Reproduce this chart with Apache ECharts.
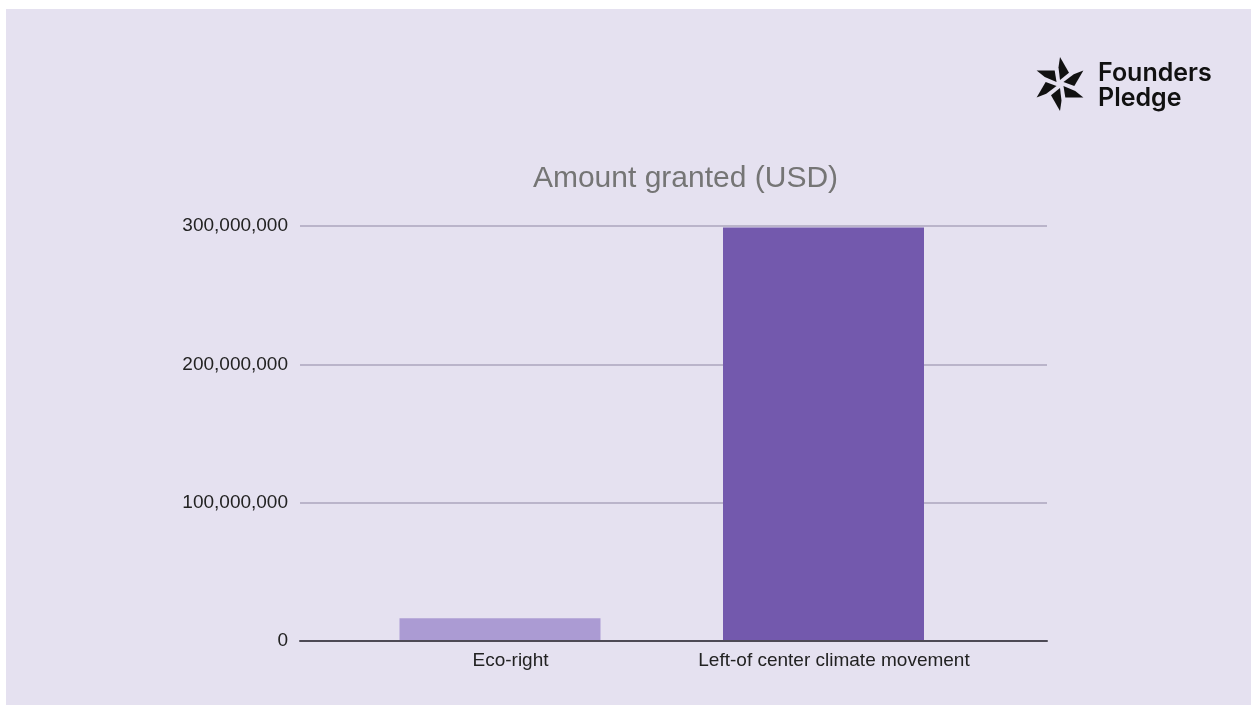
<!DOCTYPE html>
<html><head><meta charset="utf-8">
<script src="https://cdn.jsdelivr.net/npm/echarts@6/dist/echarts.min.js"></script>
<style>
html,body{margin:0;padding:0;background:#ffffff;overflow:hidden;}
#bg{position:absolute;left:6px;top:9px;width:1245px;height:696px;background:#e5e1f0;}
#chart{position:absolute;left:0;top:0;width:1251px;height:705px;}
</style></head><body>
<div id="bg"></div><div id="chart"></div>
<script>
const categories = ['Eco-right', 'Left-of center climate movement'];
const amounts = [16500000, 299000000];
const barColors = ['#ab9bd3', '#7359ad'];
const yTicks = [0, 100000000, 200000000, 300000000];
const chartTitle = 'Amount granted (USD)';
const logoLines = ['Founders', 'Pledge'];

const FONT = '"Liberation Sans", Arial, sans-serif';
const yMin = yTicks[0], yMax = yTicks[yTicks.length - 1], yStep = yTicks[1] - yTicks[0];

// logo icon: six pinwheel arms around a centre
const cx = 1060, cy = 84, L = 27, W = 9;
const logoArms = [];
[90, 30, -30, -90, 150, 210].forEach(function (deg) {
  const a = deg * Math.PI / 180;
  const ux = Math.cos(a), uy = -Math.sin(a);
  const px = -uy, py = ux;
  const pts = [
    [cx + ux * 4, cy + uy * 4],
    [cx + ux * L * 0.42 + px * W, cy + uy * L * 0.42 + py * W],
    [cx + ux * L, cy + uy * L],
    [cx + ux * L * 0.62 - px * 1.5, cy + uy * L * 0.62 - py * 1.5]
  ];
  logoArms.push({ type: 'polygon', shape: { points: pts }, style: { fill: '#111111' } });
});

const chart = echarts.init(document.getElementById('chart'), null, { renderer: 'canvas' });
chart.setOption({
  backgroundColor: 'transparent',
  animation: false,
  grid: [
    { left: 300, width: 747, top: 226, height: 415, containLabel: false },
    { left: 338.25, width: 647, top: 226, height: 415, containLabel: false }
  ],
  xAxis: [
    { type: 'category', gridIndex: 0, data: categories, z: 5,
      axisLine: { show: true, lineStyle: { color: '#4d4a55', width: 2 } },
      axisTick: { show: false }, axisLabel: { show: false }, splitLine: { show: false } },
    { type: 'category', gridIndex: 1, data: categories,
      axisLine: { show: false }, axisTick: { show: false }, splitLine: { show: false },
      axisLabel: { show: true, interval: 0, hideOverlap: false, color: '#222222', fontSize: 19, fontFamily: FONT, margin: 10, padding: [0, 0, 0, 21] } }
  ],
  yAxis: [
    { type: 'value', gridIndex: 0, min: yMin, max: yMax, interval: yStep,
      axisLine: { show: false }, axisTick: { show: false },
      axisLabel: { color: '#222222', fontSize: 19, fontFamily: FONT, margin: 12,
        formatter: function (v) { return v.toLocaleString('en-US'); } },
      splitLine: { show: true, lineStyle: { color: '#bab4ca', width: 2 } } },
    { type: 'value', gridIndex: 1, min: yMin, max: yMax, interval: yStep, show: false,
      splitLine: { show: false } }
  ],
  series: [{
    type: 'bar', xAxisIndex: 1, yAxisIndex: 1, barWidth: 201, z: 1,
    data: amounts.map(function (v, i) { return { value: v, itemStyle: { color: barColors[i] } }; })
  }],
  graphic: [
    { type: 'text', x: 685.5, y: 179, style: { text: chartTitle, font: '30px ' + FONT, fill: '#757575', align: 'center', verticalAlign: 'middle' } },
    { type: 'text', x: 1098, y: 73, style: { text: logoLines[0], font: '600 25px Inter, sans-serif', fill: '#111111', align: 'left', verticalAlign: 'middle' } },
    { type: 'text', x: 1098, y: 98, style: { text: logoLines[1], font: '600 25px Inter, sans-serif', fill: '#111111', align: 'left', verticalAlign: 'middle' } }
  ].concat(logoArms)
});
</script>
</body></html>
